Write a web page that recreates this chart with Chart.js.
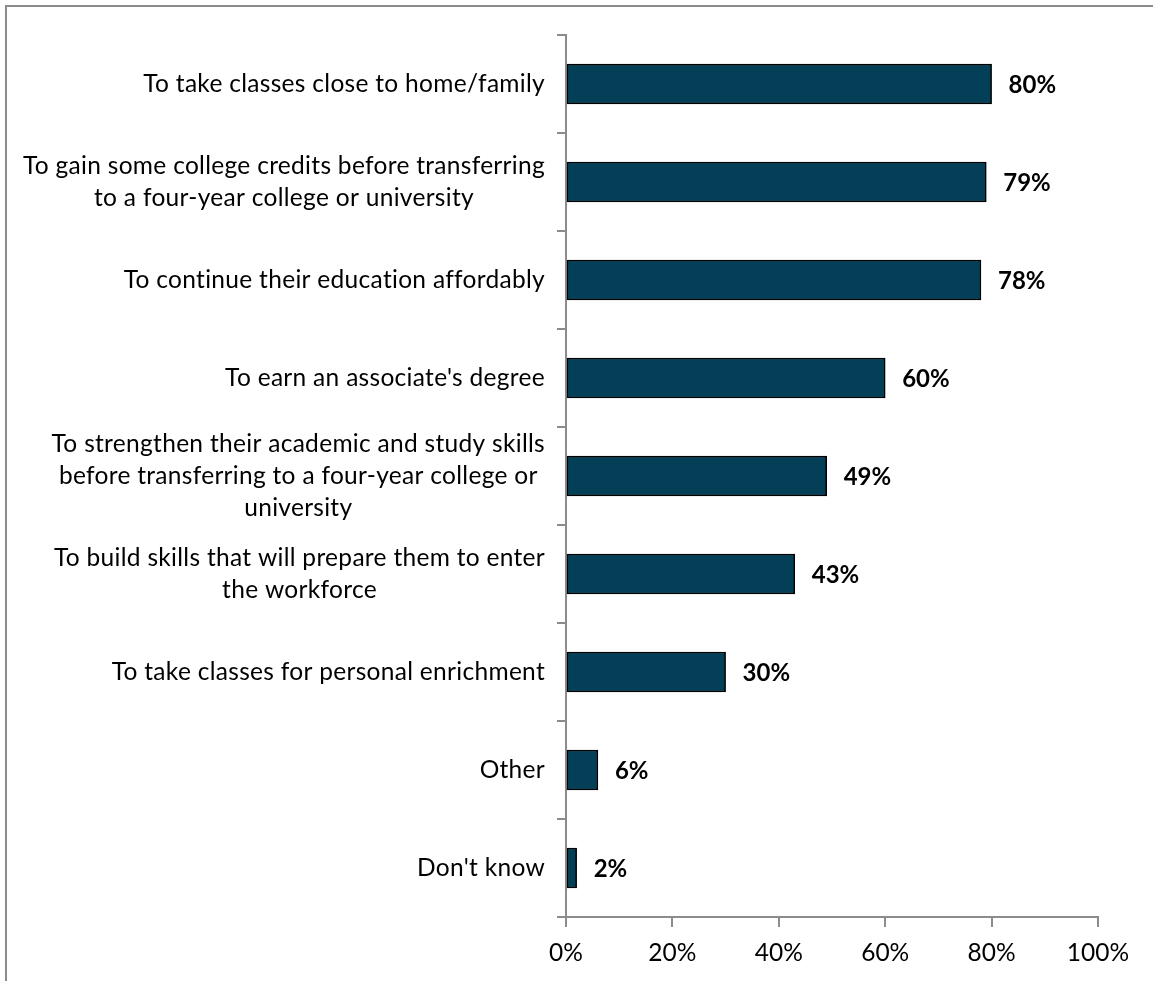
<!DOCTYPE html>
<html>
<head>
<meta charset="utf-8">
<script src="https://cdn.jsdelivr.net/npm/chart.js@4/dist/chart.umd.min.js"></script>
<style>
  html, body { margin: 0; padding: 0; background: #fff; }
  #wrap { position: relative; width: 1153px; height: 981px; overflow: hidden; }
  #frame { position: absolute; left: 5px; top: 5px; width: 2000px; height: 2000px;
           border-left: 2px solid #8c8c8c; border-top: 2px solid #8c8c8c; }
  #chart { position: absolute; left: 0; top: 0; }
</style>
</head>
<body>
<div id="wrap">
  <div id="frame"></div>
  <canvas id="chart" width="1153" height="981"></canvas>
</div>
<script>
// reasons for attending, wrapped the way they are printed on the axis
const reasons = [
    ['To take classes close to home/family'],
    ['To gain some college credits before transferring', 'to a four-year college or university'],
    ['To continue their education affordably'],
    ["To earn an associate's degree"],
    ['To strengthen their academic and study skills', 'before transferring to a four-year college or', 'university'],
    ['To build skills that will prepare them to enter', 'the workforce'],
    ['To take classes for personal enrichment'],
    ['Other'],
    ["Don't know"]
];
const shares = [80, 79, 78, 60, 49, 43, 30, 6, 2];
const pctTicks = [0, 20, 40, 60, 80, 100];

const barColor = '#033f56';
const axisColor = '#8c8c8c';
const labelFont = 'Lato, "Open Sans", sans-serif';

// category labels: each block right-aligned against the axis, lines centred inside the block
const categoryLabels = {
    id: 'categoryLabels',
    afterDraw(chart) {
        const ctx = chart.ctx;
        const y = chart.scales.y;
        const right = y.right - 21;
        const lineH = 32;
        ctx.save();
        ctx.font = '24.5px ' + labelFont;
        ctx.letterSpacing = '0.3px'; // also keeps the "ti" ligature from forming
        ctx.fillStyle = '#000';
        ctx.textAlign = 'center';
        ctx.textBaseline = 'middle';
        chart.data.labels.forEach((lines, i) => {
            const blockW = Math.max(...lines.map(l => ctx.measureText(l).width));
            const cx = right - blockW / 2;
            const cy = y.getPixelForValue(i);
            lines.forEach((l, k) => {
                ctx.fillText(l, cx, cy + (k - (lines.length - 1) / 2) * lineH);
            });
        });
        ctx.restore();
    }
};

// bold percentages just past the end of each bar
const valueLabels = {
    id: 'valueLabels',
    afterDatasetsDraw(chart) {
        const ctx = chart.ctx;
        const meta = chart.getDatasetMeta(0);
        ctx.save();
        ctx.font = 'bold 24px ' + labelFont;
        ctx.fillStyle = '#000';
        ctx.textAlign = 'left';
        ctx.textBaseline = 'middle';
        meta.data.forEach((bar, i) => {
            ctx.fillText(chart.data.datasets[0].data[i] + '%', bar.x + 17, bar.y + 1);
        });
        ctx.restore();
    }
};

new Chart(document.getElementById('chart'), {
    type: 'bar',
    data: {
        labels: reasons,
        datasets: [{
            data: shares,
            backgroundColor: barColor,
            borderColor: '#000',
            borderWidth: 1.5,
            borderSkipped: false,
            barThickness: 40
        }]
    },
    options: {
        indexAxis: 'y',
        responsive: false,
        animation: false,
        layout: { padding: { top: 35, right: 55, left: 0, bottom: 0 } },
        plugins: {
            legend: { display: false },
            tooltip: { enabled: false }
        },
        scales: {
            x: {
                min: 0,
                max: 100,
                afterBuildTicks: (scale) => { scale.ticks = pctTicks.map(v => ({ value: v })); },
                afterFit: (scale) => { scale.height = 64; },
                ticks: {
                    color: '#000',
                    padding: 11,
                    font: { family: labelFont, size: 24.5 },
                    callback: (v) => v + '%'
                },
                grid: { drawOnChartArea: false, color: axisColor, lineWidth: 2, tickLength: 10 },
                border: { color: axisColor, width: 2 }
            },
            y: {
                afterFit: (scale) => { scale.width = 566; },
                ticks: { display: false },
                grid: { offset: true, drawOnChartArea: false, color: axisColor, lineWidth: 2, tickLength: 9 },
                border: { color: axisColor, width: 2 }
            }
        }
    },
    plugins: [categoryLabels, valueLabels]
});
</script>
</body>
</html>
